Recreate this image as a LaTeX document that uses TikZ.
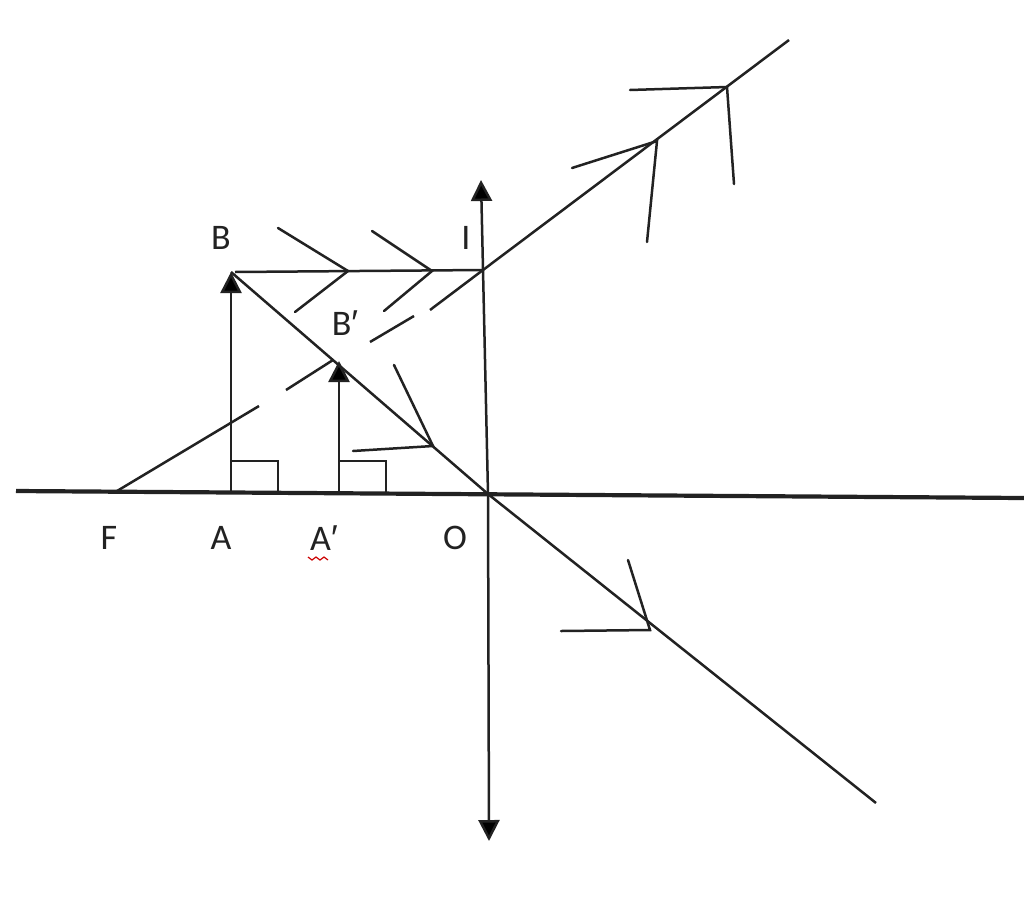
\documentclass[tikz,border=0pt]{standalone}
\usepackage{fontspec}
\setmainfont{Carlito}
\newfontfamily\primefont{Liberation Sans}
\usetikzlibrary{arrows.meta}
\definecolor{ink}{HTML}{222222}
\newcommand{\prm}{{\primefont ′}}
\tikzset{
  ray/.style={draw=ink,line width=2.5pt},
  axisline/.style={draw=ink,line width=4.2pt},
  barb/.style={draw=ink,line width=2.5pt,line cap=round},
  pointer/.style={draw=ink,line width=2.5pt,-{Triangle[length=21pt,width=21pt,fill=black]},shorten >=0pt},
  lbl/.style={text=ink,font=\fontsize{36}{40}\selectfont,inner sep=0pt},
}
\begin{document}
\begin{tikzpicture}[x=1pt,y=-1pt]
\useasboundingbox (0,0) rectangle (1024,913);
% points
\coordinate (Xl) at (16,491);
\coordinate (Xr) at (1024,498);
\coordinate (O) at (488,494);
\coordinate (LT) at (481,180);
\coordinate (LB) at (489,841);
\coordinate (Am) at (231,491);
\coordinate (Bt) at (231,272);
\coordinate (Ap) at (339,492);
\coordinate (Bp) at (339,361);
\coordinate (I) at (483,270);
\coordinate (RE) at (789,40);
\coordinate (TE) at (876,803);
\coordinate (F) at (117,491);
% labels
\node[lbl] (lB) at (221,238) {B};
\node[lbl] (lI) at (466,238) {I};
\node[lbl] (lBp) at (345,323) {B\prm};
\node[lbl] (lF) at (109,538) {F};
\node[lbl] (lA) at (221,538) {A};
\node[lbl] (lAp) at (324,538) {A\prm};
\node[lbl] (lO) at (455,538) {O};
% spell-check squiggle
\draw[red!80!black,line width=1.2pt] (308,557) -- (312,560) -- (316,557) -- (320,560) -- (324,557) -- (328,560);
% axis and lens
\draw[axisline] (Xl) -- (Xr);
\draw[pointer] (O) -- (LT);
\draw[pointer] (O) -- (LB);
% object and image arrows
\draw[pointer] (Am) -- (Bt);
\draw[pointer] (Ap) -- (Bp);
% right-angle marks
\draw[draw=ink,line width=2.2pt] (231,461) -- (278,461) -- (278,492);
\draw[draw=ink,line width=2.2pt] (339,461) -- (386,461) -- (386,493);
% rays
\draw[ray] (235,272) -- (I);
\draw[ray] (Bt) -- (O) -- (TE);
\draw[ray] (I) -- (RE);
\draw[ray] (F) -- (259,406);
\draw[ray] (286,390) -- (333,360);
\draw[ray] (370,342) -- (414,316);
\draw[ray] (430,310) -- (I);
% barbs
\coordinate (h1) at (348,271);
\coordinate (h2) at (432,271);
\coordinate (h3) at (657,141);
\coordinate (h4) at (727,87);
\coordinate (h5) at (433,446);
\coordinate (h6) at (650,630);
\draw[barb] (278,228) -- (h1) -- (295,312);
\draw[barb] (372,231) -- (h2) -- (384,311);
\draw[barb] (572,168) -- (h3) -- (647,242);
\draw[barb] (630,90) -- (h4) -- (734,184);
\draw[barb] (394,365) -- (h5) -- (353,451);
\draw[barb] (628,560) -- (h6) -- (561,631);
\end{tikzpicture}
\end{document}
